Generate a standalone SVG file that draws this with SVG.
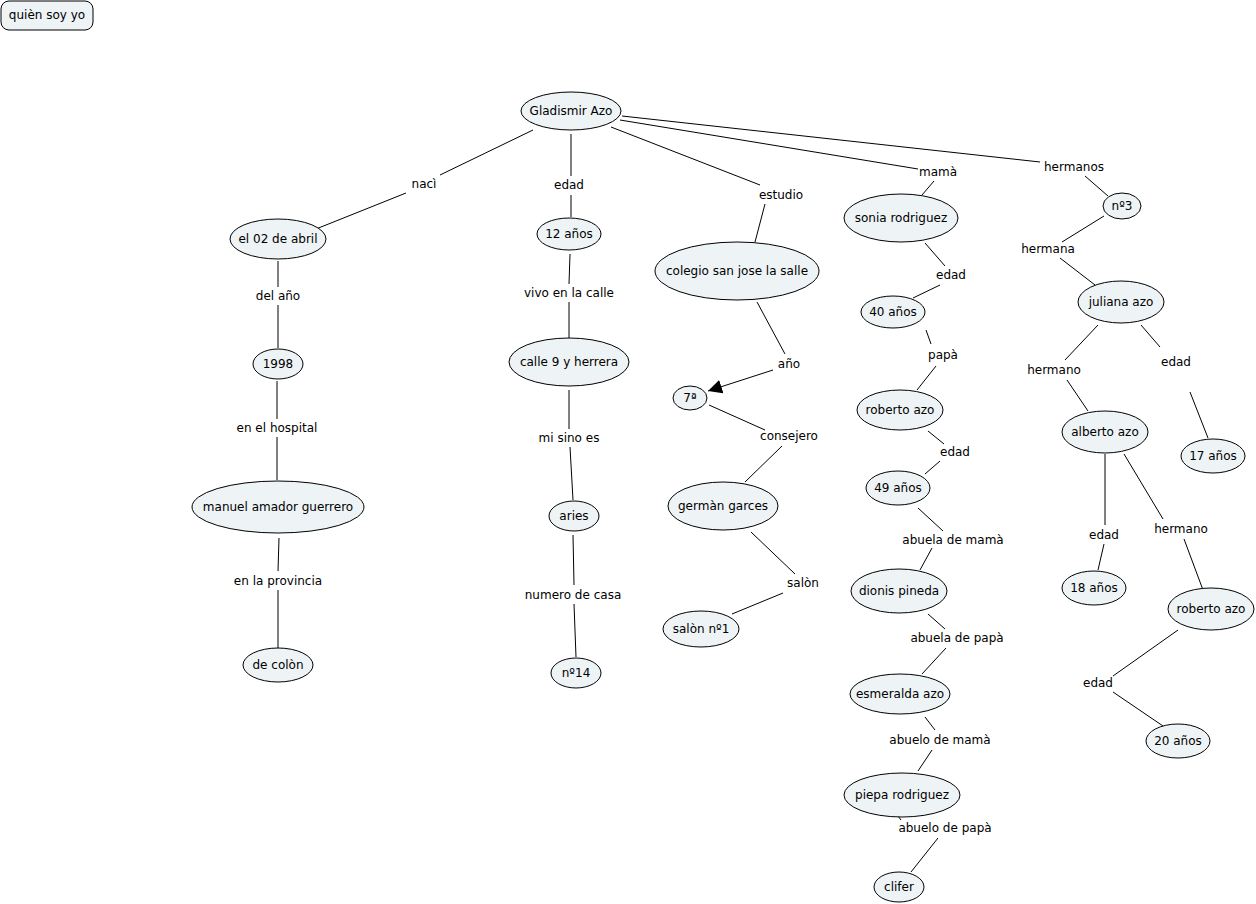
<svg xmlns="http://www.w3.org/2000/svg" width="1256" height="904" viewBox="0 0 1256 904">
<style>
.n ellipse,.n rect{fill:#eef3f6;stroke:#000;stroke-width:1}
text{font-family:"DejaVu Sans",Verdana,sans-serif;font-size:12px;fill:#000;text-anchor:middle;dominant-baseline:central}
#links line{stroke:#000;stroke-width:1}
</style>
<defs>
<marker id="arr" viewBox="0 0 10 10" refX="10" refY="5" markerWidth="14" markerHeight="14" markerUnits="userSpaceOnUse" orient="auto"><path d="M0,0L10,5L0,10z" fill="#000"/></marker>
</defs>
<rect width="1256" height="904" fill="#fff"/>
<g id="links">
<line x1="533" y1="130" x2="440" y2="175"/><line x1="406" y1="193" x2="316" y2="229"/>
<line x1="571" y1="134" x2="571" y2="176"/><line x1="571" y1="195" x2="571" y2="217"/>
<line x1="611" y1="127" x2="760" y2="185"/><line x1="765" y1="204" x2="755" y2="242"/>
<line x1="620" y1="120" x2="918" y2="169"/><line x1="934" y1="181" x2="922" y2="195"/>
<line x1="622" y1="116" x2="1040" y2="162"/><line x1="1085" y1="176" x2="1108" y2="196"/>
<line x1="278" y1="261" x2="278" y2="287"/><line x1="278" y1="305" x2="278" y2="348"/>
<line x1="277" y1="381" x2="277" y2="419"/><line x1="277" y1="437" x2="277" y2="480"/>
<line x1="279" y1="538" x2="278" y2="571"/><line x1="278" y1="590" x2="278" y2="648"/>
<line x1="570" y1="254" x2="569" y2="284"/><line x1="569" y1="302" x2="569" y2="338"/>
<line x1="569" y1="390" x2="569" y2="429"/><line x1="570" y1="447" x2="573" y2="500"/>
<line x1="573" y1="535" x2="574" y2="585"/><line x1="574" y1="604" x2="576" y2="657"/>
<line x1="757" y1="302" x2="785" y2="354"/><line x1="773" y1="370" x2="708" y2="391" marker-end="url(#arr)"/>
<line x1="709" y1="405" x2="765" y2="430"/><line x1="782" y1="446" x2="745" y2="482"/>
<line x1="751" y1="532" x2="795" y2="574"/><line x1="783" y1="593" x2="732" y2="614"/>
<line x1="925" y1="243" x2="945" y2="266"/><line x1="940" y1="285" x2="913" y2="298"/>
<line x1="926" y1="330" x2="931" y2="344"/><line x1="936" y1="366" x2="917" y2="390"/>
<line x1="928" y1="431" x2="944" y2="444"/><line x1="940" y1="461" x2="925" y2="474"/>
<line x1="918" y1="508" x2="943" y2="531"/><line x1="932" y1="548" x2="920" y2="570"/>
<line x1="928" y1="614" x2="945" y2="629"/><line x1="946" y1="648" x2="922" y2="674"/>
<line x1="925" y1="717" x2="935" y2="730"/><line x1="932" y1="750" x2="918" y2="771"/>
<line x1="898" y1="816" x2="901" y2="820"/><line x1="938" y1="838" x2="911" y2="872"/>
<line x1="1104" y1="216" x2="1062" y2="242"/><line x1="1060" y1="258" x2="1095" y2="285"/>
<line x1="1098" y1="325" x2="1065" y2="360"/><line x1="1067" y1="380" x2="1088" y2="411"/>
<line x1="1141" y1="325" x2="1160" y2="347"/><line x1="1190" y1="392" x2="1208" y2="438"/>
<line x1="1105" y1="454" x2="1105" y2="525"/><line x1="1104" y1="544" x2="1098" y2="570"/>
<line x1="1124" y1="454" x2="1163" y2="519"/><line x1="1184" y1="539" x2="1203" y2="590"/>
<line x1="1178" y1="630" x2="1113" y2="676"/><line x1="1113" y1="692" x2="1163" y2="726"/>
</g>
<g id="labels">
<text x="424" y="184">nacì</text><text x="569" y="185">edad</text><text x="781" y="195">estudio</text>
<text x="938" y="172">mamà</text><text x="1074" y="167">hermanos</text>
<text x="278" y="296">del año</text><text x="277" y="428">en el hospital</text><text x="278" y="581">en la provincia</text>
<text x="569" y="293">vivo en la calle</text><text x="569" y="438">mi sino es</text><text x="573" y="595">numero de casa</text>
<text x="789" y="364">año</text><text x="789" y="436">consejero</text><text x="803" y="583">salòn</text>
<text x="951" y="275">edad</text><text x="943" y="355">papà</text><text x="955" y="452">edad</text>
<text x="953" y="540">abuela de mamà</text><text x="957" y="638">abuela de papà</text>
<text x="940" y="740">abuelo de mamà</text><text x="945" y="828">abuelo de papà</text>
<text x="1048" y="249">hermana</text><text x="1054" y="370">hermano</text><text x="1176" y="362">edad</text>
<text x="1104" y="535">edad</text><text x="1181" y="529">hermano</text><text x="1098" y="683">edad</text>
</g>
<g id="n-title" class="n"><rect x="1" y="1" width="92" height="29" rx="8"/><text x="47" y="15">quièn soy yo</text></g>
<g id="n-gladismir" class="n"><ellipse cx="571" cy="111" rx="50" ry="19"/><text x="571" y="111">Gladismir Azo</text></g>
<g id="n-abril" class="n"><ellipse cx="278" cy="239" rx="48" ry="20"/><text x="278" y="239">el 02 de abril</text></g>
<g id="n-1998" class="n"><ellipse cx="278" cy="364" rx="25" ry="15"/><text x="278" y="364">1998</text></g>
<g id="n-manuel" class="n"><ellipse cx="278" cy="507" rx="86" ry="26"/><text x="278" y="507">manuel amador guerrero</text></g>
<g id="n-colon" class="n"><ellipse cx="278" cy="665" rx="35" ry="17"/><text x="278" y="665">de colòn</text></g>
<g id="n-12" class="n"><ellipse cx="569" cy="234" rx="32" ry="16"/><text x="569" y="234">12 años</text></g>
<g id="n-calle" class="n"><ellipse cx="569" cy="362" rx="60" ry="24"/><text x="569" y="362">calle 9 y herrera</text></g>
<g id="n-aries" class="n"><ellipse cx="574" cy="516" rx="25" ry="15"/><text x="574" y="516">aries</text></g>
<g id="n-n14" class="n"><ellipse cx="576" cy="673" rx="25" ry="15"/><text x="576" y="673">nº14</text></g>
<g id="n-colegio" class="n"><ellipse cx="737" cy="271" rx="82" ry="29"/><text x="737" y="271">colegio san jose la salle</text></g>
<g id="n-7a" class="n"><ellipse cx="690" cy="398" rx="17" ry="12"/><text x="690" y="398">7ª</text></g>
<g id="n-german" class="n"><ellipse cx="723" cy="506" rx="55" ry="24"/><text x="723" y="506">germàn garces</text></g>
<g id="n-salon" class="n"><ellipse cx="701" cy="629" rx="38" ry="18"/><text x="701" y="629">salòn nº1</text></g>
<g id="n-sonia" class="n"><ellipse cx="901" cy="218" rx="57" ry="24"/><text x="901" y="218">sonia rodriguez</text></g>
<g id="n-40" class="n"><ellipse cx="893" cy="312" rx="32" ry="16"/><text x="893" y="312">40 años</text></g>
<g id="n-roberto1" class="n"><ellipse cx="900" cy="410" rx="43" ry="20"/><text x="900" y="410">roberto azo</text></g>
<g id="n-49" class="n"><ellipse cx="898" cy="488" rx="32" ry="17"/><text x="898" y="488">49 años</text></g>
<g id="n-dionis" class="n"><ellipse cx="899" cy="591" rx="48" ry="22"/><text x="899" y="591">dionis pineda</text></g>
<g id="n-esmeralda" class="n"><ellipse cx="900" cy="694" rx="50" ry="20"/><text x="900" y="694">esmeralda azo</text></g>
<g id="n-piepa" class="n"><ellipse cx="902" cy="795" rx="58" ry="22"/><text x="902" y="795">piepa rodriguez</text></g>
<g id="n-clifer" class="n"><ellipse cx="899" cy="887" rx="25" ry="15"/><text x="899" y="887">clifer</text></g>
<g id="n-n3" class="n"><ellipse cx="1122" cy="206" rx="19" ry="13"/><text x="1122" y="206">nº3</text></g>
<g id="n-juliana" class="n"><ellipse cx="1121" cy="302" rx="43" ry="21"/><text x="1121" y="302">juliana azo</text></g>
<g id="n-alberto" class="n"><ellipse cx="1105" cy="432" rx="43" ry="21"/><text x="1105" y="432">alberto azo</text></g>
<g id="n-17" class="n"><ellipse cx="1213" cy="456" rx="32" ry="17"/><text x="1213" y="456">17 años</text></g>
<g id="n-18" class="n"><ellipse cx="1094" cy="588" rx="32" ry="17"/><text x="1094" y="588">18 años</text></g>
<g id="n-roberto2" class="n"><ellipse cx="1211" cy="609" rx="43" ry="21"/><text x="1211" y="609">roberto azo</text></g>
<g id="n-20" class="n"><ellipse cx="1178" cy="741" rx="32" ry="17"/><text x="1178" y="741">20 años</text></g>
</svg>
